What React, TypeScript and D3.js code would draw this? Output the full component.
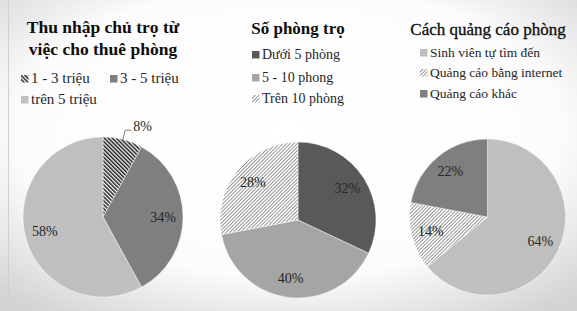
import React from 'react';
import * as d3 from 'd3';

// chart data
const incomeLabels = ['1 - 3 triệu', '3 - 5 triệu', 'trên 5 triệu'];
const incomeValues = [8, 34, 58];
const roomLabels = ['Dưới 5 phòng', '5 - 10 phong', 'Trên 10 phòng'];
const roomValues = [32, 40, 28];
const adLabels = ['Sinh viên tự tìm đến', 'Quảng cáo bằng internet', 'Quảng cáo khác'];
const adValues = [64, 14, 22];

const W = 577;
const H = 311;
const FONT = '"Liberation Serif", "Times New Roman", "DejaVu Serif", serif';

type PieProps = {
  values: number[];
  fills: string[];
  cx: number;
  cy: number;
  r: number;
  outside?: boolean[];
};

const Pie = ({ values, fills, cx, cy, r, outside = [] }: PieProps) => {
  const pie = d3.pie<number>().sort(null).value(d => d);
  const arcs = pie(values);
  const arc = d3.arc<d3.PieArcDatum<number>>().innerRadius(0).outerRadius(r);
  const labelArc = d3.arc<d3.PieArcDatum<number>>().innerRadius(r * 0.75).outerRadius(r * 0.75);
  const elbowArc = d3.arc<d3.PieArcDatum<number>>().innerRadius(r * 1.12).outerRadius(r * 1.12);
  const edgeArc = d3.arc<d3.PieArcDatum<number>>().innerRadius(r * 0.99).outerRadius(r * 0.99);
  return (
    <g transform={`translate(${cx},${cy})`}>
      {arcs.map((a, i) => (
        <path key={i} d={arc(a) || ''} fill={fills[i]} stroke="#ffffff" strokeWidth={0.4} />
      ))}
      {arcs.map((a, i) => {
        if (outside[i]) {
          // leader line out of the slice, then label to the right
          const [ex, ey] = edgeArc.centroid(a);
          const [mx, my] = elbowArc.centroid(a);
          return (
            <g key={'l' + i}>
              <polyline points={`${ex},${ey} ${mx},${my} ${mx + 6},${my}`} fill="none" stroke="#595959" strokeWidth={0.8} />
              <text x={mx + 8} y={my - 4} dominantBaseline="central" fontSize={14} fill="#262626">
                {a.data}%
              </text>
            </g>
          );
        }
        const [lx, ly] = labelArc.centroid(a);
        return (
          <text key={'l' + i} x={lx} y={ly} textAnchor="middle" dominantBaseline="central" fontSize={14} fill="#262626">
            {a.data}%
          </text>
        );
      })}
    </g>
  );
};

type LegendItem = { label: string; fill: string; x: number; y: number };

const Legend = ({ items, size }: { items: LegendItem[]; size: number }) => (
  <g>
    {items.map((it, i) => (
      <g key={i}>
        <rect x={it.x} y={it.y - 8} width={7.5} height={7.5} fill={it.fill} />
        <text x={it.x + 10} y={it.y} fontSize={size} fill="#262626">{it.label}</text>
      </g>
    ))}
  </g>
);

export default function App() {
  const c1 = ['url(#hatchDark)', '#7f7f7f', '#bfbfbf'];
  const c2 = ['#595959', '#a5a5a5', 'url(#hatchLight)'];
  const c3 = ['#bfbfbf', 'url(#hatchLight)', '#7f7f7f'];

  return (
    <svg width={W} height={H} style={{ position: 'absolute', left: 0, top: 0, fontFamily: FONT }}>
      <defs>
        <radialGradient id="bg" cx="50%" cy="42%" r="72%">
          <stop offset="0%" stopColor="#ffffff" />
          <stop offset="65%" stopColor="#fcfcfc" />
          <stop offset="100%" stopColor="#d4d4d4" />
        </radialGradient>
        <pattern id="hatchDark" width={2.8} height={2.8} patternUnits="userSpaceOnUse" patternTransform="rotate(-45)">
          <rect width={2.8} height={2.8} fill="#ffffff" />
          <rect width={1.5} height={2.8} fill="#1f1f1f" />
        </pattern>
        <pattern id="hatchLight" width={2.5} height={2.5} patternUnits="userSpaceOnUse" patternTransform="rotate(45)">
          <rect width={2.5} height={2.5} fill="#ffffff" />
          <rect width={0.9} height={2.5} fill="#8c8c8c" />
        </pattern>
      </defs>
      <rect width={W} height={H} fill="url(#bg)" />
      <line x1={8.5} y1={0} x2={8.5} y2={H} stroke="#d0d0d0" strokeWidth={1} />

      {/* chart 1 */}
      <text x={103} y={33} textAnchor="middle" fontSize={17.5} fontWeight="bold" fill="#0d0d0d">Thu nhập chủ trọ từ</text>
      <text x={103} y={55} textAnchor="middle" fontSize={17.5} fontWeight="bold" fill="#0d0d0d">việc cho thuê phòng</text>
      <Legend
        size={15}
        items={[
          { label: incomeLabels[0], fill: c1[0], x: 21, y: 83 },
          { label: incomeLabels[1], fill: c1[1], x: 110, y: 83 },
          { label: incomeLabels[2], fill: c1[2], x: 21, y: 104 },
        ]}
      />
      <Pie values={incomeValues} fills={c1} cx={103} cy={217} r={80} outside={[true, false, false]} />

      {/* chart 2 */}
      <text x={298} y={34} textAnchor="middle" fontSize={17} fontWeight="bold" fill="#0d0d0d">Số phòng trọ</text>
      <Legend
        size={14}
        items={roomLabels.map((label, i) => ({ label, fill: c2[i], x: 252, y: [59, 82, 103][i] }))}
      />
      <Pie values={roomValues} fills={c2} cx={298} cy={220} r={78} />

      {/* chart 3 */}
      <text x={488} y={35} textAnchor="middle" fontSize={17} fill="#0d0d0d" stroke="#0d0d0d" strokeWidth={0.3}>Cách quảng cáo phòng</text>
      <Legend
        size={13.5}
        items={adLabels.map((label, i) => ({ label, fill: c3[i], x: 420, y: [57, 77, 98][i] }))}
      />
      <Pie values={adValues} fills={c3} cx={487.5} cy={217} r={78} />
    </svg>
  );
}
